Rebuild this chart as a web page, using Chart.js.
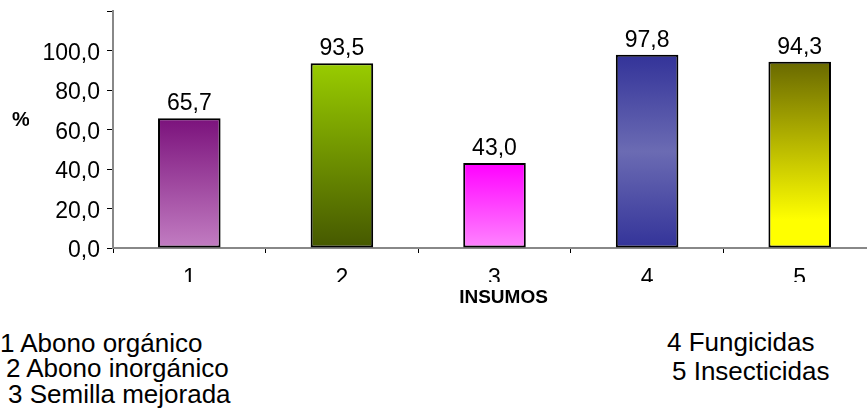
<!DOCTYPE html>
<html lang="es">
<head>
<meta charset="UTF-8">
<title>Insumos</title>
<script src="https://cdn.jsdelivr.net/npm/chart.js"></script>
<style>
  html,body{margin:0; padding:0; overflow:hidden; background:#fff;}
  #wrap{position:relative; width:867px; height:413px; overflow:hidden;}
  #grafico{position:absolute; left:0; top:0;}
  .ley{position:absolute; font-family:"Liberation Sans",Arial,sans-serif; font-size:26px; line-height:26px; white-space:nowrap; color:#000;}
</style>
</head>
<body>
<div id="wrap">
  <canvas id="grafico" width="876" height="310"></canvas>
  <div class="ley" style="left:0px; top:330px;">1 Abono orgánico</div>
  <div class="ley" style="left:6px; top:355px;">2 Abono inorgánico</div>
  <div class="ley" style="left:8px; top:381px;">3 Semilla mejorada</div>
  <div class="ley" style="left:667px; top:329px;">4 Fungicidas</div>
  <div class="ley" style="left:672px; top:358px;">5 Insecticidas</div>
</div>
<script>
// datos
const categorias = ['1', '2', '3', '4', '5'];
const porcentajes = [65.7, 93.5, 43.0, 97.8, 94.3];
const ejeY = [0, 20, 40, 60, 80, 100, 120];
const tituloX = 'INSUMOS';
const tituloY = '%';

// degradados de cada barra (arriba -> abajo)
const degradados = [
  [[0, '#7b127c'], [1, '#c27dc2']],
  [[0, '#99cc00'], [1, '#455800']],
  [[0, '#ff00ff'], [1, '#ff85ff']],
  [[0, '#333399'], [0.5, '#6b6bb3'], [1, '#333399']],
  [[0, '#696900'], [0.85, '#ffff00'], [1, '#ffff00']]
];

const fuente = '"Liberation Sans", Arial, sans-serif';

function fondo(c) {
  if (c.type !== 'data') return '#000';
  const chart = c.chart;
  if (!chart.chartArea) return '#000';
  const y = chart.scales.y;
  const arriba = y.getPixelForValue(c.raw);
  const abajo = y.getPixelForValue(0);
  const g = chart.ctx.createLinearGradient(0, arriba, 0, abajo);
  degradados[c.dataIndex].forEach(s => g.addColorStop(s[0], s[1]));
  return g;
}

const textos = {
  id: 'textos',
  afterDatasetsDraw(chart) {
    const ctx = chart.ctx;
    ctx.save();
    ctx.fillStyle = '#000';
    ctx.font = '23px ' + fuente;
    ctx.textAlign = 'center';
    ctx.textBaseline = 'alphabetic';
    chart.getDatasetMeta(0).data.forEach((bar, i) => {
      ctx.fillText(porcentajes[i].toFixed(1).replace('.', ','), bar.x, bar.y - 8);
    });
    ctx.restore();
  },
  afterDraw(chart) {
    const ctx = chart.ctx;
    const area = chart.chartArea;
    const x = chart.scales.x;

    // etiquetas del eje x (cortadas por abajo)
    ctx.save();
    ctx.beginPath();
    ctx.rect(0, area.bottom, chart.width, 34);
    ctx.clip();
    ctx.fillStyle = '#000';
    ctx.font = '23px ' + fuente;
    ctx.textAlign = 'center';
    ctx.textBaseline = 'alphabetic';
    categorias.forEach((c, i) => ctx.fillText(c, x.getPixelForValue(i), area.bottom + 37));
    ctx.restore();

    // titulo eje x
    ctx.save();
    ctx.fillStyle = '#000';
    ctx.font = 'bold 19px ' + fuente;
    ctx.textAlign = 'center';
    ctx.fillText(tituloX, (area.left + area.right) / 2 + 9, 303);
    ctx.restore();

    // titulo eje y (cortado)
    ctx.save();
    ctx.beginPath();
    ctx.rect(0, 0, 29, chart.height);
    ctx.clip();
    ctx.fillStyle = '#000';
    ctx.font = 'bold 20px ' + fuente;
    ctx.textAlign = 'left';
    ctx.fillText(tituloY, 12, 126);
    ctx.restore();
  }
};

new Chart(document.getElementById('grafico'), {
  type: 'bar',
  data: {
    labels: categorias,
    datasets: [{
      data: porcentajes,
      backgroundColor: fondo,
      borderColor: '#000',
      borderWidth: 2,
      borderSkipped: false,
      barPercentage: 0.41,
      categoryPercentage: 1
    }]
  },
  options: {
    responsive: false,
    animation: false,
    layout: { padding: { top: 11, bottom: 10, left: 0, right: 0 } },
    plugins: { legend: { display: false }, tooltip: { enabled: false } },
    scales: {
      x: {
        offset: true,
        grid: { offset: true, drawOnChartArea: false, drawTicks: true, tickLength: 5, color: '#000', lineWidth: 1 },
        border: { display: true, color: '#888', width: 2 },
        ticks: { display: false },
        afterFit(s) { s.height = 52; s.paddingLeft = 0; s.paddingRight = 0; }
      },
      y: {
        min: 0,
        max: 120,
        afterBuildTicks(s) { s.ticks = ejeY.map(v => ({ value: v })); },
        ticks: {
          font: { family: fuente, size: 23 },
          color: '#000',
          padding: 7,
          labelOffset: 3,
          callback: v => v === 120 ? '' : Number(v).toFixed(1).replace('.', ',')
        },
        grid: { drawOnChartArea: false, tickLength: 6, color: '#000', lineWidth: 1 },
        border: { display: true, color: '#888', width: 2 },
        afterFit(s) { s.width = 113; s.paddingTop = 0; s.paddingBottom = 0; }
      }
    }
  },
  plugins: [textos]
});
</script>
</body>
</html>
